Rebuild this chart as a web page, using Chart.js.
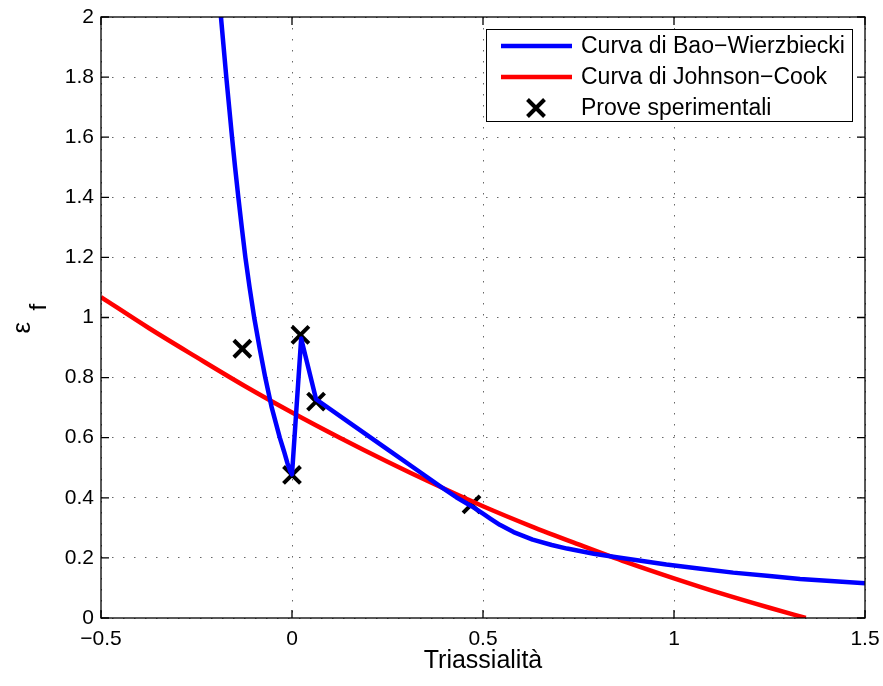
<!DOCTYPE html>
<html>
<head>
<meta charset="utf-8">
<script src="https://cdn.jsdelivr.net/npm/chart.js@4/dist/chart.umd.min.js"></script>
<style>
  body { margin: 0; background: #fff; }
  #wrap { width: 883px; height: 686px; }
</style>
</head>
<body>
<div id="wrap"><canvas id="myChart" width="883" height="686"></canvas></div>
<script>
// Curva di Bao-Wierzbiecki (triassialita, deformazione a rottura)
const baoX = [-0.1925, -0.186, -0.179, -0.172, -0.1645, -0.157, -0.149, -0.1405, -0.1315, -0.122, -0.111,
  -0.099, -0.085, -0.070, -0.053, -0.032, -0.021, -0.012, -0.005, 0.0, 0.024, 0.063, 0.15, 0.25,
  0.33, 0.387, 0.43, 0.47, 0.50, 0.52, 0.544, 0.58, 0.63, 0.68, 0.72, 0.79, 0.85, 0.98, 1.07,
  1.155, 1.25, 1.33, 1.42, 1.5];
const baoY = [2.1, 2.0, 1.9, 1.8, 1.7, 1.6, 1.5, 1.4, 1.3, 1.2, 1.1,
  1.0, 0.9, 0.8, 0.7, 0.6, 0.555, 0.515, 0.49, 0.478, 0.93, 0.728, 0.650, 0.561,
  0.490, 0.439, 0.402, 0.372, 0.347, 0.330, 0.310, 0.286, 0.261, 0.243, 0.231, 0.214, 0.202, 0.178, 0.164,
  0.151, 0.140, 0.130, 0.122, 0.116];

// Curva di Johnson-Cook
const jcX = [-0.5, -0.375, -0.25, -0.125, 0, 0.125, 0.25, 0.375, 0.5, 0.625, 0.75, 0.875, 1.0, 1.125, 1.25, 1.345];
const jcY = [1.068, 0.965, 0.868, 0.773, 0.684, 0.600, 0.520, 0.444, 0.372, 0.306, 0.245, 0.186, 0.132, 0.081, 0.034, 0.0];

// Prove sperimentali
const testX = [-0.130, 0.0, 0.022, 0.063, 0.470];
const testY = [0.896, 0.476, 0.942, 0.720, 0.378];

const labels = ["Curva di Bao\u2212Wierzbiecki", "Curva di Johnson\u2212Cook", "Prove sperimentali"];

const xTicks = [-0.5, 0, 0.5, 1, 1.5];
const yTicks = [0, 0.2, 0.4, 0.6, 0.8, 1, 1.2, 1.4, 1.6, 1.8, 2];

const FONT = "'Liberation Sans', Arial, Helvetica, sans-serif";

const toPts = (xs, ys) => xs.map((x, i) => ({ x, y: ys[i] }));

const fmt = (v) => {
  const s = String(+Math.abs(v).toFixed(1));
  return v < 0 ? "\u2212" + s : s;
};

// frame with inward ticks, MATLAB style
const framePlugin = {
  id: "frame",
  afterDatasetsDraw(chart) {
    const { ctx, chartArea: a, scales } = chart;
    ctx.save();
    ctx.strokeStyle = "#000";
    ctx.lineWidth = 1.3;
    ctx.strokeRect(a.left, a.top, a.right - a.left, a.bottom - a.top);
    const tl = 8;
    ctx.beginPath();
    xTicks.forEach((v) => {
      const px = scales.x.getPixelForValue(v);
      ctx.moveTo(px, a.bottom); ctx.lineTo(px, a.bottom - tl);
      ctx.moveTo(px, a.top); ctx.lineTo(px, a.top + tl);
    });
    yTicks.forEach((v) => {
      const py = scales.y.getPixelForValue(v);
      ctx.moveTo(a.left, py); ctx.lineTo(a.left + tl, py);
      ctx.moveTo(a.right, py); ctx.lineTo(a.right - tl, py);
    });
    ctx.stroke();
    ctx.restore();
  },
};

// y title: epsilon with subscript f
const yTitlePlugin = {
  id: "yTitle",
  afterDraw(chart) {
    const { ctx, chartArea: a } = chart;
    const cy = (a.top + a.bottom) / 2;
    ctx.save();
    ctx.translate(30, cy + 16);
    ctx.rotate(-Math.PI / 2);
    ctx.fillStyle = "#000";
    ctx.textBaseline = "alphabetic";
    ctx.textAlign = "left";
    ctx.font = "26px " + FONT;
    ctx.fillText("\u03B5", 0, 0);
    ctx.font = "24px " + FONT;
    ctx.fillText("f", 23, 16);
    ctx.restore();
  },
};

// legend box in the upper right corner
const legendPlugin = {
  id: "boxLegend",
  afterDraw(chart) {
    const { ctx } = chart;
    const bx = 486.5, by = 29.5, bw = 366, bh = 92;
    ctx.save();
    ctx.fillStyle = "#fff";
    ctx.fillRect(bx, by, bw, bh);
    ctx.strokeStyle = "#000";
    ctx.lineWidth = 1;
    ctx.strokeRect(bx, by, bw, bh);
    chart.data.datasets.forEach((ds, i) => {
      const y = 46 + i * 31;
      if (ds.showLine) {
        ctx.strokeStyle = ds.borderColor;
        ctx.lineWidth = ds.borderWidth;
        ctx.beginPath();
        ctx.moveTo(501, y); ctx.lineTo(572, y);
        ctx.stroke();
      } else {
        ctx.strokeStyle = ds.pointBorderColor;
        ctx.lineWidth = 4;
        const r = 8.5, cx = 536;
        ctx.beginPath();
        ctx.moveTo(cx - r, y - r); ctx.lineTo(cx + r, y + r);
        ctx.moveTo(cx - r, y + r); ctx.lineTo(cx + r, y - r);
        ctx.stroke();
      }
      ctx.fillStyle = "#000";
      ctx.font = "23px " + FONT;
      ctx.textBaseline = "middle";
      ctx.fillText(ds.label, 581, y + 1);
    });
    ctx.restore();
  },
};

const ctx = document.getElementById("myChart").getContext("2d");
new Chart(ctx, {
  type: "scatter",
  data: {
    datasets: [
      {
        label: labels[0],
        data: toPts(baoX, baoY),
        showLine: true,
        borderColor: "#0000ff",
        borderWidth: 4.5,
        borderJoinStyle: "round",
        pointRadius: 0,
        tension: 0,
      },
      {
        label: labels[1],
        data: toPts(jcX, jcY),
        showLine: true,
        borderColor: "#ff0000",
        borderWidth: 4.5,
        pointRadius: 0,
        cubicInterpolationMode: "monotone",
      },
      {
        label: labels[2],
        data: toPts(testX, testY),
        showLine: false,
        pointStyle: "crossRot",
        pointRadius: 12,
        pointBorderWidth: 4,
        pointBorderColor: "#000",
        pointBackgroundColor: "#000",
      },
    ],
  },
  options: {
    responsive: false,
    animation: false,
    devicePixelRatio: 1,
    layout: { padding: { top: 17, right: 18, left: 0, bottom: 0 } },
    plugins: {
      legend: { display: false },
      tooltip: { enabled: false },
    },
    scales: {
      x: {
        type: "linear",
        min: -0.5,
        max: 1.5,
        afterBuildTicks: (s) => { s.ticks = xTicks.map((v) => ({ value: v })); },
        afterFit: (s) => { s.height = 68; s.paddingLeft = 0; s.paddingRight = 0; },
        ticks: {
          autoSkip: false,
          maxRotation: 0,
          padding: 9,
          color: "#000",
          font: { family: FONT, size: 21 },
          callback: (v) => fmt(v),
        },
        grid: { color: "rgba(0,0,0,0.6)", lineWidth: 1, drawTicks: false },
        border: { display: false, dash: [1.5, 9.5] },
        title: {
          display: true,
          text: "Triassialit\u00E0",
          color: "#000",
          font: { family: FONT, size: 25 },
          padding: { top: 0, bottom: 10 },
        },
      },
      y: {
        type: "linear",
        min: 0,
        max: 2,
        afterBuildTicks: (s) => { s.ticks = yTicks.map((v) => ({ value: v })); },
        afterFit: (s) => { s.width = 101; s.paddingTop = 0; s.paddingBottom = 0; },
        ticks: {
          autoSkip: false,
          padding: 7,
          color: "#000",
          font: { family: FONT, size: 21 },
          callback: (v) => fmt(v),
        },
        grid: { color: "rgba(0,0,0,0.6)", lineWidth: 1, drawTicks: false },
        border: { display: false, dash: [1.5, 9.5] },
      },
    },
  },
  plugins: [framePlugin, yTitlePlugin, legendPlugin],
});
</script>
</body>
</html>
